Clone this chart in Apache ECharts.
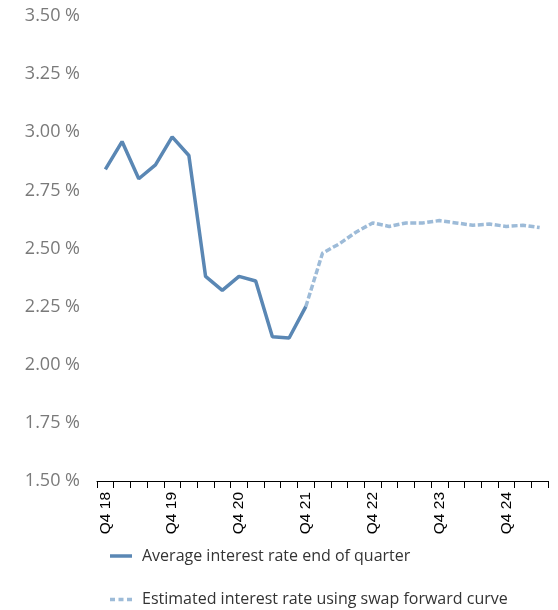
<!DOCTYPE html>
<html>
<head>
<meta charset="utf-8">
<script src="https://cdn.jsdelivr.net/npm/echarts@6/dist/echarts.min.js"></script>
<style>
  html, body { margin: 0; padding: 0; background: #fff; }
  #chart { width: 558px; height: 610px; }
</style>
</head>
<body>
<div id="chart"></div>
<script>
// Quarter labels, Q4 2018 through Q2 2025
const quarters = [
  'Q4 18', 'Q1 19', 'Q2 19', 'Q3 19',
  'Q4 19', 'Q1 20', 'Q2 20', 'Q3 20',
  'Q4 20', 'Q1 21', 'Q2 21', 'Q3 21',
  'Q4 21', 'Q1 22', 'Q2 22', 'Q3 22',
  'Q4 22', 'Q1 23', 'Q2 23', 'Q3 23',
  'Q4 23', 'Q1 24', 'Q2 24', 'Q3 24',
  'Q4 24', 'Q1 25', 'Q2 25'
];

// Average interest rate at end of quarter (%), realised
const actualRate = [
  2.84, 2.96, 2.80, 2.86,
  2.98, 2.90, 2.38, 2.32,
  2.38, 2.36, 2.12, 2.115,
  2.25, null, null, null,
  null, null, null, null,
  null, null, null, null,
  null, null, null
];

// Estimated interest rate from the swap forward curve (%)
const forwardRate = [
  null, null, null, null,
  null, null, null, null,
  null, null, null, null,
  2.25, 2.48, 2.52, 2.57,
  2.61, 2.595, 2.61, 2.61,
  2.62, 2.61, 2.60, 2.605,
  2.595, 2.60, 2.59
];

const seriesNames = [
  'Average interest rate end of quarter',
  'Estimated interest rate using swap forward curve'
];

const solidColor = '#5a87b4';
const dashColor = '#9dbbd8';

const legendText = {
  fontFamily: 'Open Sans',
  fontSize: 16,
  color: '#333333',
  padding: [0, 0, 0, 5]
};

const chart = echarts.init(document.getElementById('chart'));

chart.setOption({
  animation: false,
  backgroundColor: '#ffffff',
  grid: { left: 97, right: 10, top: 16, bottom: 129, containLabel: false },
  legend: [
    {
      left: 110,
      top: 548,
      padding: 0,
      itemWidth: 22,
      itemHeight: 3.5,
      textStyle: legendText,
      data: [{ name: seriesNames[0], icon: 'path://M0,0h22v3.5h-22z' }]
    },
    {
      left: 110,
      top: 591.5,
      padding: 0,
      itemWidth: 22,
      itemHeight: 3.5,
      textStyle: legendText,
      data: [{
        name: seriesNames[1],
        icon: 'path://M0,0h5v3.5h-5zM8.5,0h5v3.5h-5zM17,0h5v3.5h-5z'
      }]
    }
  ],
  xAxis: {
    type: 'category',
    data: quarters,
    boundaryGap: true,
    axisLine: { lineStyle: { color: '#000000', width: 1 } },
    axisTick: { show: true, length: 7, interval: 0, lineStyle: { color: '#000000' } },
    axisLabel: {
      interval: 3,
      rotate: 90,
      margin: 11,
      fontFamily: 'Liberation Sans',
      fontSize: 15.5,
      color: '#000000'
    },
    splitLine: { show: false }
  },
  yAxis: {
    type: 'value',
    min: 1.5,
    max: 3.5,
    interval: 0.25,
    axisLine: { show: false },
    axisTick: { show: false },
    splitLine: { show: false },
    axisLabel: {
      margin: 17,
      fontFamily: 'Open Sans',
      fontSize: 18,
      color: '#7a7a7a',
      formatter: v => v.toFixed(2) + ' %'
    }
  },
  series: [
    {
      name: seriesNames[1],
      type: 'line',
      data: forwardRate,
      symbol: 'none',
      connectNulls: false,
      z: 2,
      lineStyle: { color: dashColor, width: 3.5, type: [6, 2.5], cap: 'butt' },
      itemStyle: { color: dashColor }
    },
    {
      name: seriesNames[0],
      type: 'line',
      data: actualRate,
      symbol: 'none',
      connectNulls: false,
      z: 3,
      lineStyle: { color: solidColor, width: 3.5, cap: 'butt' },
      itemStyle: { color: solidColor }
    }
  ]
});
</script>
</body>
</html>
